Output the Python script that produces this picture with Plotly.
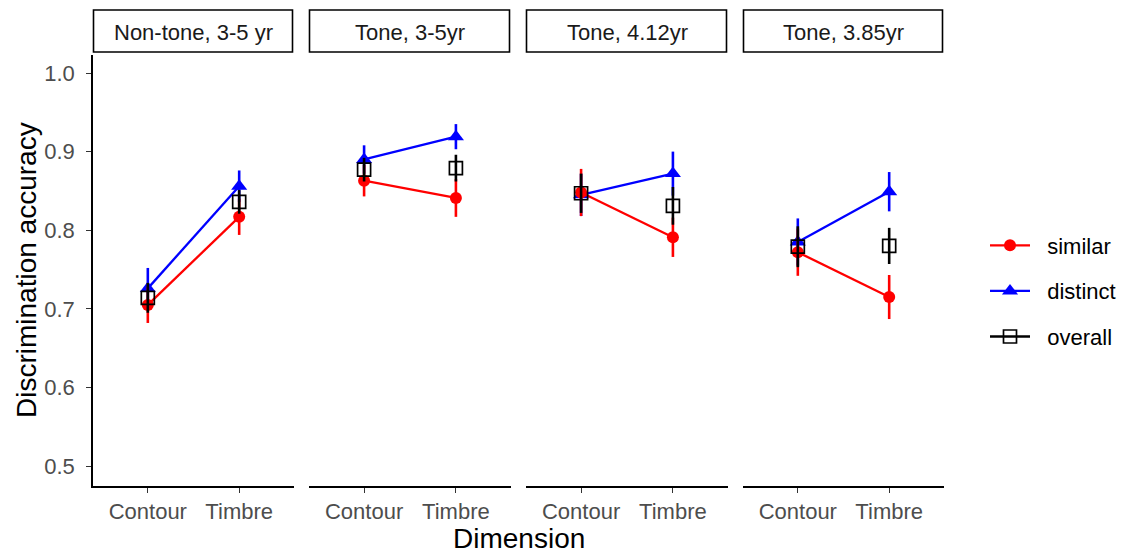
import plotly.graph_objects as go

panels = ["Non-tone, 3-5 yr", "Tone, 3-5yr", "Tone, 4.12yr", "Tone, 3.85yr"]
dims = ["Contour", "Timbre"]
series_names = ["similar", "distinct", "overall"]

# values per panel: [Contour, Timbre]
similar_mean = [[0.705, 0.817], [0.863, 0.841], [0.848, 0.791], [0.772, 0.715]]
similar_se = [[0.023, 0.023], [0.020, 0.024], [0.030, 0.025], [0.030, 0.028]]
distinct_mean = [[0.726, 0.856], [0.890, 0.919], [0.845, 0.872], [0.785, 0.849]]
distinct_se = [[0.026, 0.020], [0.018, 0.016], [0.027, 0.028], [0.030, 0.025]]
overall_mean = [[0.714, 0.836], [0.877, 0.879], [0.847, 0.831], [0.779, 0.780]]
overall_se = [[0.019, 0.015], [0.015, 0.017], [0.025, 0.024], [0.026, 0.023]]

FONT = "Liberation Sans, Arial, sans-serif"
fig = go.Figure()

FW, FH = 1125, 552
PL, PR, PT, PB = 93, 944, 55, 486  # plot area in page pixels
W = PR - PL
H = PB - PT
edges = [(0, 201), (216, 418), (433, 635), (650, W)]
domains = [[a / W, b / W] for a, b in edges]


def px_y(py):
    return (PB - py) / H


def px_x(px):
    return (px - PL) / W


NBSP = "\u00a0\u00a0"

for i in range(4):
    xa = "x" if i == 0 else f"x{i+1}"
    fig.add_trace(go.Scatter(
        x=dims, y=distinct_mean[i], xaxis=xa, yaxis="y",
        mode="lines+markers", name=NBSP + series_names[1], legendgroup="distinct", legendrank=2,
        showlegend=(i == 0),
        line=dict(color="#0000FF", width=2.3),
        marker=dict(symbol="triangle-up", size=14, color="#0000FF"),
        error_y=dict(type="data", array=distinct_se[i], color="#0000FF", thickness=2.6, width=0),
    ))
    fig.add_trace(go.Scatter(
        x=dims, y=similar_mean[i], xaxis=xa, yaxis="y",
        mode="lines+markers", name=NBSP + series_names[0], legendgroup="similar", legendrank=1,
        showlegend=(i == 0),
        line=dict(color="#FF0000", width=2.3),
        marker=dict(symbol="circle", size=12, color="#FF0000"),
        error_y=dict(type="data", array=similar_se[i], color="#FF0000", thickness=2.6, width=0),
    ))
    fig.add_trace(go.Scatter(
        x=dims, y=overall_mean[i], xaxis=xa, yaxis="y",
        mode="markers", name=series_names[2], legendgroup="overall",
        showlegend=False,
        marker=dict(symbol="square-open", size=13, color="#000000", line=dict(width=1.7, color="#000000")),
        error_y=dict(type="data", array=overall_se[i], color="#000000", thickness=2.6, width=0),
    ))

# legend key for overall (line + open square)
fig.add_trace(go.Scatter(
    x=[None], y=[None], mode="lines+markers", name=NBSP + series_names[2], legendgroup="overall",
    legendrank=3, line=dict(color="#000000", width=2.3),
    marker=dict(symbol="square-open", size=13, color="#000000", line=dict(width=1.7, color="#000000")),
))

axis_common = dict(
    type="category", categoryorder="array", categoryarray=dims, range=[-0.6, 1.6],
    showline=True, linecolor="#000000", linewidth=1.6, ticks="outside", ticklen=5,
    tickcolor="#333333", tickwidth=1.4, showgrid=False, zeroline=False, automargin=False,
    tickfont=dict(family=FONT, size=22, color="#4D4D4D"), anchor="y",
)
layout = {}
for i in range(4):
    key = "xaxis" if i == 0 else f"xaxis{i+1}"
    layout[key] = dict(axis_common, domain=domains[i])
fig.update_layout(**layout)

fig.update_layout(
    yaxis=dict(range=[0.4746, 1.0229], tickvals=[0.5, 0.6, 0.7, 0.8, 0.9, 1.0], tickformat=".1f",
               showline=True, linecolor="#000000", linewidth=1.6, ticks="outside", ticklen=5,
               tickcolor="#333333", tickwidth=1.4, showgrid=False, zeroline=False, automargin=False,
               tickfont=dict(family=FONT, size=22, color="#4D4D4D"), ticklabelstandoff=7,
               anchor="x"),
    width=FW, height=FH,
    margin=dict(l=PL, r=FW - PR, t=PT, b=FH - PB, pad=0),
    paper_bgcolor="#FFFFFF", plot_bgcolor="#FFFFFF",
    font=dict(family=FONT, color="#000000"),
    legend=dict(xref="container", yref="container", x=985 / FW, xanchor="left",
                y=(FH - 291) / FH, yanchor="middle",
                font=dict(family=FONT, size=22, color="#000000"),
                tracegroupgap=14, itemwidth=40, bgcolor="rgba(0,0,0,0)"),
)

# strip boxes and labels
shapes = []
annotations = []
for i, (a, b) in enumerate(domains):
    shapes.append(dict(type="rect", xref="paper", yref="paper", x0=a + 0.5 / W, x1=b - 1.5 / W,
                       y0=px_y(52), y1=px_y(10), line=dict(color="#000000", width=1.6),
                       fillcolor="#FFFFFF"))
    annotations.append(dict(text=panels[i], xref="paper", yref="paper", x=(a + b) / 2, y=px_y(32),
                            xanchor="center", yanchor="middle", showarrow=False,
                            font=dict(family=FONT, size=22, color="#1A1A1A")))
annotations.append(dict(text="Dimension", xref="paper", yref="paper", x=0.5, y=px_y(538),
                        xanchor="center", yanchor="middle", showarrow=False,
                        font=dict(family=FONT, size=28, color="#000000")))
annotations.append(dict(text="Discrimination accuracy", xref="paper", yref="paper", x=px_x(26),
                        y=px_y(270), xanchor="center", yanchor="middle", textangle=-90,
                        showarrow=False, font=dict(family=FONT, size=28, color="#000000")))
fig.update_layout(shapes=shapes, annotations=annotations)

fig.write_html("out.html", config={"displayModeBar": False},
               post_script="document.body.style.margin='0';document.body.style.overflow='hidden';")
